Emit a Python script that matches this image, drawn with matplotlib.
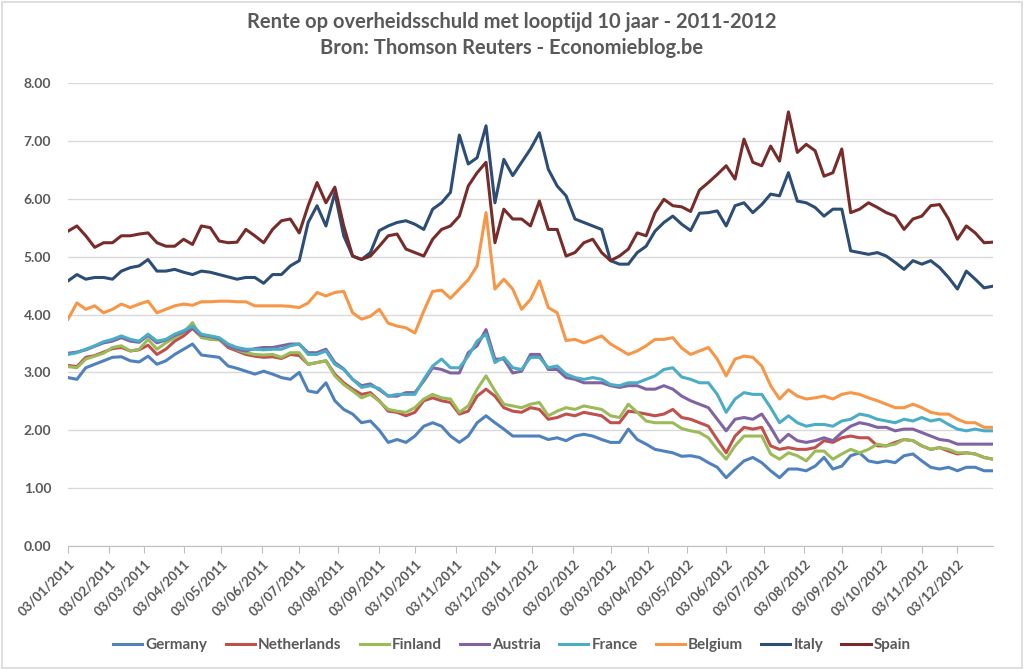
import numpy as np
import pandas as pd
import matplotlib
matplotlib.use("Agg")
import matplotlib.pyplot as plt
from matplotlib.patches import Rectangle

plt.rcParams['font.family'] = ['Lato', 'DejaVu Sans']

# Weekly samples (every 5th business day) from 03/01/2011 to 31/12/2012
germany = [2.91,2.88,3.08,3.14,3.20,3.26,3.27,3.20,3.18,3.28,
           3.14,3.20,3.31,3.40,3.49,3.30,3.28,3.26,3.11,3.07,
           3.02,2.97,3.02,2.97,2.91,2.88,3.00,2.68,2.65,2.82,
           2.51,2.36,2.28,2.13,2.16,2.00,
           1.79,1.84,1.79,1.90,2.07,2.13,2.07,1.90,1.79,1.90,
           2.13,2.25,2.13,2.02,1.90,1.90,1.90,1.90,1.84,1.87,
           1.82,1.90,1.93,1.90,1.84,1.79,1.79,2.02,1.84,1.76,
           1.67,1.64,1.61,1.55,
           1.56,1.53,1.44,1.36,1.18,1.33,1.47,1.53,1.44,1.30,
           1.18,1.33,1.33,1.30,1.38,1.53,1.33,1.38,1.56,1.61,
           1.47,1.44,1.47,1.44,1.56,1.59,1.47,1.36,1.33,1.36,
           1.30,1.36,1.36,1.30,1.30]
netherlands = [3.12,3.10,3.26,3.29,3.35,3.41,3.43,3.37,3.39,3.47,
               3.31,3.40,3.54,3.63,3.76,3.61,3.58,3.57,3.43,3.37,
               3.31,3.28,3.26,3.27,3.24,3.31,3.29,3.14,3.17,3.20,
               2.97,2.82,2.71,2.62,2.65,2.51,
               2.33,2.31,2.25,2.31,2.51,2.56,2.51,2.48,2.28,2.33,
               2.59,2.71,2.59,2.39,2.33,2.31,2.39,2.36,2.19,2.22,
               2.28,2.25,2.31,2.28,2.25,2.13,2.13,2.33,2.31,2.28,
               2.25,2.28,2.36,2.22,
               2.19,2.13,2.07,1.84,1.61,1.90,2.05,2.02,2.05,1.73,
               1.67,1.70,1.67,1.67,1.70,1.82,1.79,1.87,1.90,1.87,
               1.87,1.73,1.73,1.79,1.84,1.82,1.73,1.67,1.70,1.64,
               1.59,1.61,1.59,1.53,1.50]
finland = [3.10,3.08,3.23,3.28,3.33,3.43,3.46,3.37,3.40,3.57,
           3.40,3.51,3.60,3.69,3.86,3.60,3.57,3.56,3.46,3.39,
           3.34,3.31,3.30,3.31,3.26,3.34,3.34,3.14,3.17,3.20,
           2.94,2.79,2.68,2.56,2.62,2.50,
           2.36,2.33,2.31,2.39,2.54,2.62,2.56,2.54,2.31,2.42,
           2.71,2.94,2.68,2.45,2.42,2.39,2.45,2.48,2.25,2.33,
           2.39,2.36,2.42,2.39,2.36,2.25,2.22,2.45,2.31,2.16,
           2.13,2.13,2.13,2.03,
           1.99,1.96,1.87,1.67,1.50,1.73,1.90,1.90,1.90,1.59,
           1.50,1.61,1.56,1.47,1.64,1.64,1.50,1.59,1.67,1.61,
           1.67,1.76,1.73,1.76,1.84,1.82,1.73,1.67,1.70,1.67,
           1.61,1.61,1.59,1.53,1.50]
austria = [3.33,3.35,3.39,3.45,3.51,3.54,3.60,3.54,3.52,3.64,
           3.51,3.56,3.64,3.70,3.77,3.64,3.62,3.58,3.46,3.40,
           3.37,3.41,3.43,3.43,3.46,3.49,3.49,3.34,3.34,3.40,
           3.17,3.06,2.88,2.77,2.80,2.70,
           2.59,2.59,2.65,2.65,2.85,3.08,3.05,2.99,2.99,3.34,
           3.46,3.74,3.23,3.23,2.99,3.02,3.31,3.31,3.05,3.05,
           2.91,2.88,2.82,2.82,2.82,2.77,2.74,2.77,2.77,2.71,
           2.71,2.77,2.71,2.59,
           2.51,2.45,2.39,2.19,1.99,2.19,2.22,2.19,2.28,2.05,
           1.79,1.93,1.82,1.79,1.82,1.87,1.82,1.96,2.07,2.13,
           2.10,2.05,2.05,1.99,2.02,2.02,1.96,1.90,1.84,1.82,
           1.76,1.76,1.76,1.76,1.76]
france = [3.31,3.34,3.40,3.46,3.53,3.57,3.63,3.57,3.54,3.66,
          3.54,3.57,3.66,3.72,3.80,3.66,3.63,3.60,3.49,3.43,
          3.40,3.40,3.39,3.40,3.40,3.46,3.49,3.31,3.31,3.37,
          3.14,3.05,2.88,2.74,2.77,2.72,
          2.59,2.62,2.62,2.62,2.88,3.11,3.23,3.08,3.08,3.28,
          3.54,3.66,3.17,3.26,3.08,3.05,3.26,3.26,3.08,3.11,
          2.97,2.91,2.88,2.91,2.88,2.79,2.77,2.82,2.82,2.88,
          2.94,3.05,3.08,2.92,
          2.88,2.82,2.82,2.62,2.31,2.54,2.65,2.62,2.62,2.39,
          2.13,2.25,2.13,2.07,2.10,2.10,2.07,2.16,2.19,2.28,
          2.25,2.19,2.16,2.13,2.19,2.16,2.22,2.16,2.19,2.10,
          2.02,1.99,2.02,1.99,1.99]
belgium = [3.92,4.20,4.09,4.15,4.03,4.09,4.18,4.12,4.18,4.23,
           4.03,4.09,4.15,4.18,4.16,4.22,4.22,4.23,4.23,4.22,
           4.22,4.15,4.15,4.15,4.15,4.14,4.12,4.20,4.38,4.32,
           4.38,4.40,4.03,3.92,3.97,4.09,
           3.85,3.80,3.77,3.68,4.06,4.40,4.42,4.28,4.44,4.60,
           4.84,5.76,4.44,4.61,4.44,4.09,4.26,4.58,4.12,4.03,
           3.55,3.57,3.51,3.57,3.63,3.49,3.40,3.31,3.37,3.46,
           3.57,3.57,3.60,3.42,
           3.31,3.37,3.43,3.23,2.94,3.23,3.28,3.26,3.11,2.77,
           2.54,2.70,2.59,2.54,2.56,2.59,2.54,2.62,2.65,2.62,
           2.56,2.51,2.45,2.39,2.39,2.45,2.39,2.31,2.28,2.28,
           2.19,2.13,2.13,2.05,2.05]
italy = [4.58,4.69,4.61,4.64,4.64,4.61,4.75,4.81,4.84,4.95,
         4.75,4.75,4.78,4.73,4.69,4.75,4.73,4.69,4.65,4.61,
         4.64,4.64,4.54,4.69,4.69,4.84,4.93,5.59,5.88,5.53,
         6.10,5.36,5.01,4.95,5.07,5.45,
         5.53,5.59,5.62,5.56,5.47,5.82,5.93,6.11,7.10,6.60,
         6.71,7.26,5.93,6.68,6.40,6.63,6.86,7.14,6.51,6.22,
         6.05,5.65,5.59,5.53,5.47,4.93,4.87,4.87,5.07,5.18,
         5.44,5.59,5.70,5.56,
         5.45,5.75,5.76,5.79,5.53,5.88,5.93,5.76,5.90,6.08,
         6.05,6.45,5.96,5.93,5.85,5.70,5.82,5.82,5.10,5.07,
         5.04,5.07,5.01,4.90,4.78,4.93,4.87,4.93,4.81,4.64,
         4.44,4.75,4.61,4.46,4.49]
spain = [5.44,5.53,5.36,5.16,5.24,5.24,5.36,5.36,5.39,5.41,
         5.24,5.18,5.18,5.30,5.21,5.53,5.50,5.27,5.24,5.25,
         5.47,5.36,5.24,5.47,5.62,5.65,5.41,5.88,6.28,5.93,
         6.20,5.53,5.01,4.95,5.01,5.18,
         5.36,5.39,5.13,5.07,5.01,5.30,5.47,5.53,5.70,6.22,
         6.45,6.63,5.24,5.82,5.65,5.65,5.53,5.96,5.47,5.47,
         5.01,5.07,5.24,5.30,5.07,4.93,5.01,5.13,5.41,5.36,
         5.76,5.99,5.88,5.86,
         5.78,6.15,6.28,6.42,6.57,6.34,7.03,6.63,6.57,6.91,
         6.65,7.50,6.80,6.94,6.83,6.39,6.45,6.86,5.76,5.82,
         5.93,5.85,5.76,5.70,5.47,5.65,5.70,5.88,5.90,5.65,
         5.30,5.53,5.41,5.24,5.25]

countries = ["Germany", "Netherlands", "Finland", "Austria", "France",
             "Belgium", "Italy", "Spain"]
series = [germany, netherlands, finland, austria, france, belgium, italy, spain]
colors = ["#4F81BD", "#C0504D", "#9BBB59", "#8064A2", "#4BACC6",
          "#F79646", "#2C4D75", "#772C2A"]

bdays = pd.bdate_range("2011-01-03", "2012-12-31")
n_b = len(bdays)
step = 5
xpos = np.arange(0, n_b, step)

# Ticks on the 3rd of each month (next business day if weekend)
tick_pos, tick_lab = [], []
for y in (2011, 2012):
    for m in range(1, 13):
        d = pd.Timestamp(year=y, month=m, day=3)
        idx = int(np.searchsorted(bdays.values, d.to_datetime64()))
        tick_pos.append(idx)
        tick_lab.append(d.strftime("%d/%m/%Y"))

fig = plt.figure(figsize=(10.24, 6.69), dpi=100)
fig.patches.append(Rectangle((0.002, 0.002), 0.996, 0.995, transform=fig.transFigure,
                             fill=False, edgecolor="#D9D9D9", linewidth=1.2))
ax = fig.add_axes([68/1024, 1-546/669, (993-68)/1024, (546-83)/669])

for name, vals, c in zip(countries, series, colors):
    ax.plot(xpos[:len(vals)], vals, color=c, lw=2.2, label=name,
            solid_joinstyle="round")

ax.set_xlim(0, n_b - 1)
ax.set_ylim(0, 8)
ax.set_yticks(np.arange(0, 8.01, 1))
ax.set_yticklabels([f"{v:.2f}" for v in np.arange(0, 8.01, 1)],
                   fontsize=10, color="#595959", fontweight="bold")
ax.yaxis.grid(True, color="#D9D9D9", lw=1)
ax.set_axisbelow(True)
ax.tick_params(axis="y", length=0, pad=12)
ax.set_xticks(tick_pos)
ax.set_xticklabels(tick_lab, rotation=45, ha="right", rotation_mode="anchor",
                   fontsize=9.5, color="#595959", fontweight="bold")
ax.tick_params(axis="x", length=5, color="#BFBFBF", pad=3)
for s in ("top", "right", "left"):
    ax.spines[s].set_visible(False)
ax.spines["bottom"].set_color("#BFBFBF")

fig.text(0.5, 1-22/669, "Rente op overheidsschuld met looptijd 10 jaar - 2011-2012",
         ha="center", va="center", fontsize=14.5, fontweight="bold", color="#595959")
fig.text(0.5, 1-48/669, "Bron: Thomson Reuters - Economieblog.be",
         ha="center", va="center", fontsize=14.5, fontweight="bold", color="#595959")

leg = fig.legend(loc="center", bbox_to_anchor=(0.5, 1-645/669), ncol=8, frameon=False,
                 fontsize=11, handlelength=1.9, handletextpad=0.2, columnspacing=1.2)
for t in leg.get_texts():
    t.set_color("#595959")
    t.set_fontweight("bold")

fig.savefig("out.png", dpi=100)
